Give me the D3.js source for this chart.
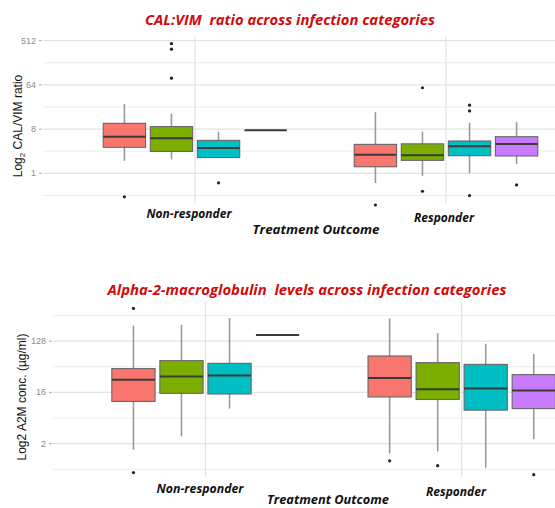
<!DOCTYPE html>
<html>
<head>
<meta charset="utf-8">
<script src="https://cdn.jsdelivr.net/npm/d3@7"></script>
<style>
  html, body { margin: 0; padding: 0; background: #fff; }
  svg { display: block; }
</style>
</head>
<body>
<svg id="chart" width="555" height="508"></svg>
<script>
// ---------------- DATA ----------------
const outcomes = ["Non-responder", "Responder"];
const infections = ["Category 1", "Category 2", "Category 3", "Category 4"];
const colors = ["#F8766D", "#7CAE00", "#00BFC4", "#C77CFF"];

// CAL:VIM ratio – box statistics [outcome][infection]
const calvimLow    = [[1.8, 1.93, 2.1, 7.6], [0.63, 0.89, 1.01, 1.55]];
const calvimQ1     = [[3.4, 2.8, 2.1, 7.6],  [1.36, 1.84, 2.29, 2.26]];
const calvimMedian = [[5.6, 5.2, 3.3, 7.6],  [2.4, 2.33, 3.57, 3.97]];
const calvimQ3     = [[10.5, 9.0, 4.7, 7.6], [3.9, 4.0, 4.57, 5.6]];
const calvimHigh   = [[26, 16.6, 7.1, 7.6],  [17.7, 7.1, 10.8, 11]];
// outliers: [outcome, infection, value]
const calvimOutliers = [
  [0, 0, 0.33], [0, 1, 446], [0, 1, 343], [0, 1, 88], [0, 2, 0.64],
  [1, 0, 0.225], [1, 1, 56], [1, 1, 0.43], [1, 2, 24.6], [1, 2, 18.8], [1, 2, 0.35], [1, 3, 0.58]
];
const calvimTicks = [1, 8, 64, 512];

// Alpha-2-macroglobulin (ug/ml) – box statistics [outcome][infection]
const a2mLow    = [[1.57, 2.7, 8.3, 164],  [1.34, 1.46, 0.75, 2.4]];
const a2mQ1     = [[11.1, 15.4, 15, 164],  [13.3, 12, 7.8, 8.3]];
const a2mMedian = [[26.7, 30.6, 31.6, 164], [28.6, 18.1, 18.8, 17.3]];
const a2mQ3     = [[42, 58, 52, 164],      [70, 53.5, 49.8, 32.9]];
const a2mHigh   = [[239, 249, 326, 164],   [321, 177, 115, 76]];
const a2mOutliers = [
  [0, 0, 481], [0, 0, 0.62],
  [1, 0, 1.0], [1, 1, 0.82], [1, 3, 0.57]
];
const a2mTicks = [2, 16, 128];

// ---------------- DRAWING ----------------
const svg = d3.select("#chart");
svg.append("rect").attr("width", 555).attr("height", 508).attr("fill", "#fff");

function panel(cfg) {
  const g = svg.append("g");
  const x = d3.scaleLinear().domain([1, 2]).range(cfg.xRange);
  const unit = x(2) - x(1);
  const y = d3.scaleLog().base(2).domain(cfg.yDomain).range(cfg.yRange);

  // minor positions: geometric midpoints between majors, extended one step either side
  const t = cfg.ticks;
  const step = t[1] / t[0];
  const minors = [];
  for (let i = -1; i < t.length; i++) {
    const base = i < 0 ? t[0] / step : t[i];
    minors.push(base * Math.sqrt(step));
  }
  const inPanel = v => y(v) >= cfg.top && y(v) <= cfg.bottom;

  g.selectAll("line.minor").data(minors.filter(inPanel)).join("line")
    .attr("x1", cfg.left).attr("x2", 555)
    .attr("y1", d => y(d)).attr("y2", d => y(d))
    .attr("stroke", "#ececec").attr("stroke-width", 1);
  g.selectAll("line.major").data(t).join("line")
    .attr("x1", cfg.left).attr("x2", 555)
    .attr("y1", d => y(d)).attr("y2", d => y(d))
    .attr("stroke", "#e2e2e2").attr("stroke-width", 1.3);
  g.selectAll("line.vgrid").data([1, 2]).join("line")
    .attr("x1", d => x(d)).attr("x2", d => x(d))
    .attr("y1", cfg.top).attr("y2", cfg.bottom)
    .attr("stroke", "#e2e2e2").attr("stroke-width", 1.2);

  // axis ticks + labels
  g.selectAll("line.tick").data(t).join("line")
    .attr("x1", cfg.left - 4).attr("x2", cfg.left - 1)
    .attr("y1", d => y(d)).attr("y2", d => y(d))
    .attr("stroke", "#aaa").attr("stroke-width", 1);
  g.selectAll("text.tick").data(t).join("text")
    .attr("x", cfg.left - 7).attr("y", d => y(d) + 3)
    .attr("text-anchor", "end")
    .attr("font-family", "Liberation Sans, Arial, sans-serif")
    .attr("font-size", 9).attr("fill", "#8a8a8a")
    .text(d => d);

  // boxes
  const dodge = 0.75 / infections.length;
  const bw = dodge * 0.9 * unit;
  const boxes = [];
  outcomes.forEach((o, oi) => {
    infections.forEach((inf, ii) => {
      boxes.push({
        cx: x(oi + 1 + (ii - (infections.length - 1) / 2) * dodge),
        color: colors[ii],
        low: cfg.low[oi][ii], q1: cfg.q1[oi][ii], med: cfg.med[oi][ii],
        q3: cfg.q3[oi][ii], high: cfg.high[oi][ii]
      });
    });
  });
  const bg = g.selectAll("g.box").data(boxes).join("g");
  bg.append("line")
    .attr("x1", d => d.cx).attr("x2", d => d.cx)
    .attr("y1", d => y(d.q3)).attr("y2", d => y(d.high))
    .attr("stroke", "#9a9a9a").attr("stroke-width", 1.6);
  bg.append("line")
    .attr("x1", d => d.cx).attr("x2", d => d.cx)
    .attr("y1", d => y(d.q1)).attr("y2", d => y(d.low))
    .attr("stroke", "#9a9a9a").attr("stroke-width", 1.6);
  bg.append("rect")
    .attr("x", d => d.cx - bw / 2).attr("width", bw)
    .attr("y", d => y(d.q3)).attr("height", d => Math.max(0, y(d.q1) - y(d.q3)))
    .attr("fill", d => d.color).attr("stroke", "#666").attr("stroke-width", 1.1);
  bg.append("line")
    .attr("x1", d => d.cx - bw / 2).attr("x2", d => d.cx + bw / 2)
    .attr("y1", d => y(d.med)).attr("y2", d => y(d.med))
    .attr("stroke", "#3a3a3a").attr("stroke-width", 2);

  // outliers
  g.selectAll("circle.out").data(cfg.outliers).join("circle")
    .attr("cx", d => x(d[0] + 1 + (d[1] - (infections.length - 1) / 2) * dodge))
    .attr("cy", d => y(d[2]))
    .attr("r", 1.6).attr("fill", "#222");

  // titles
  g.append("text")
    .attr("x", cfg.titleX).attr("y", cfg.titleY)
    .attr("text-anchor", "middle")
    .attr("font-family", "Open Sans, Liberation Sans, sans-serif")
    .attr("font-weight", "bold").attr("font-style", "italic")
    .attr("font-size", 14).attr("fill", "#d10a0a")
    .attr("textLength", cfg.titleW).attr("lengthAdjust", "spacingAndGlyphs")
    .style("white-space", "pre")
    .text(cfg.title);

  cfg.xLabels.forEach((lb, i) => {
    g.append("text")
      .attr("x", lb[0]).attr("y", lb[1])
      .attr("text-anchor", "middle")
      .attr("font-family", "Open Sans, Liberation Sans, sans-serif")
      .attr("font-weight", "bold").attr("font-style", "italic")
      .attr("font-size", 12).attr("fill", "#111")
      .attr("textLength", lb[2]).attr("lengthAdjust", "spacingAndGlyphs")
      .text(outcomes[i]);
  });
  g.append("text")
    .attr("x", cfg.xTitle[0]).attr("y", cfg.xTitle[1])
    .attr("text-anchor", "middle")
    .attr("font-family", "Open Sans, Liberation Sans, sans-serif")
    .attr("font-weight", "bold").attr("font-style", "italic")
    .attr("font-size", cfg.xTitle[3]).attr("fill", "#111")
    .attr("textLength", cfg.xTitle[2]).attr("lengthAdjust", "spacingAndGlyphs")
    .text("Treatment Outcome");

  const yt = g.append("text")
    .attr("transform", `translate(${cfg.yTitle[0]},${cfg.yTitle[1]}) rotate(-90)`)
    .attr("text-anchor", "middle")
    .attr("font-family", "Liberation Sans, Arial, sans-serif")
    .attr("font-size", 12).attr("fill", "#111");
  cfg.yTitleParts.forEach(p => {
    const ts = yt.append("tspan").text(p[0]);
    if (p[1]) ts.attr("font-size", 8).attr("dy", 3);
    else if (p[2]) ts.attr("dy", -3);
  });
}

panel({
  xRange: [195, 446], yDomain: [1, 512], yRange: [173.3, 40.7],
  left: 43, top: 37, bottom: 203, ticks: calvimTicks,
  low: calvimLow, q1: calvimQ1, med: calvimMedian, q3: calvimQ3, high: calvimHigh,
  outliers: calvimOutliers,
  title: "CAL:VIM\u00a0 ratio across infection categories", titleX: 290, titleY: 25, titleW: 290,
  xLabels: [[189, 217.5, 85], [444, 221.5, 60]],
  xTitle: [316, 233.5, 127, 13],
  yTitle: [22, 126],
  yTitleParts: [["Log", false], ["2", true], [" CAL/VIM ratio", false, true]]
});

panel({
  xRange: [205.5, 461.7], yDomain: [2, 128], yRange: [443.7, 341.1],
  left: 53, top: 302, bottom: 477, ticks: a2mTicks,
  low: a2mLow, q1: a2mQ1, med: a2mMedian, q3: a2mQ3, high: a2mHigh,
  outliers: a2mOutliers,
  title: "Alpha-2-macroglobulin\u00a0 levels across infection categories", titleX: 307, titleY: 295, titleW: 399,
  xLabels: [[200, 493, 87], [456, 496, 60]],
  xTitle: [328, 503.5, 122, 12],
  yTitle: [26, 397],
  yTitleParts: [["Log2 A2M conc. (\u00b5g/ml)", false]]
});
</script>
</body>
</html>
